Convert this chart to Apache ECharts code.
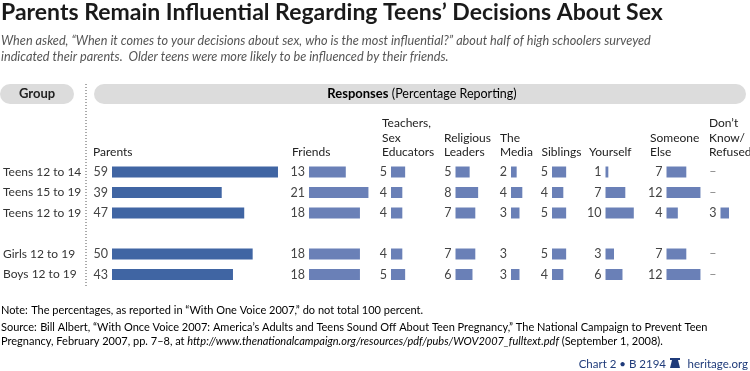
<!DOCTYPE html>
<html>
<head>
<meta charset="utf-8">
<script src="https://cdn.jsdelivr.net/npm/echarts@6/dist/echarts.min.js"></script>
<style>html,body{margin:0;padding:0;background:#fff;}#c{width:750px;height:371px;}</style>
</head>
<body>
<div id="c"></div>
<script>
// ---- data ----
const groups = ['Teens 12 to 14', 'Teens 15 to 19', 'Teens 12 to 19', 'Girls 12 to 19', 'Boys 12 to 19'];
const parents = [59, 39, 47, 50, 43];
const friends = [13, 21, 18, 18, 18];
const teachers = [5, 4, 4, 4, 5];
const religious = [5, 8, 7, 7, 6];
const media = [2, 4, 3, 3, 3];
const siblings = [5, 4, 5, 5, 4];
const yourself = [1, 7, 10, 3, 6];
const someoneElse = [7, 12, 4, 7, 12];
const dontKnow = [null, null, 3, null, null];
const headers = [
  'Parents', 'Friends', 'Teachers,\nSex\nEducators', 'Religious\nLeaders', 'The\nMedia',
  'Siblings', 'Yourself', 'Someone\nElse', "Don\u2019t\nKnow/\nRefused"
];
const title = 'Parents Remain Influential Regarding Teens\u2019 Decisions About Sex';
const subtitle1 = 'When asked, \u201CWhen it comes to your decisions about sex, who is the most influential?\u201D about half of high schoolers surveyed';
const subtitle2 = 'indicated their parents.  Older teens were more likely to be influenced by their friends.';

// ---- layout ----
const FONT = 'Lato';
const seriesList = [parents, friends, teachers, religious, media, siblings, yourself, someoneElse, dontKnow];
const barLeft = [111, 309, 391, 455.5, 511, 552, 605.5, 666.5, 720.5];
const headLeft = [93, 292, 382, 444, 500, 541.5, 589, 650, 709];
const colMax = [60, 60, 10, 10, 10, 10, 10, 15, 10];
const hidden = [[4, 3]]; // [column, row] : value printed but no bar drawn (Media, Girls)
const PXPER = 2.83;
const gridTop = 161.75, rowH = 20.5;

// categories with a blank spacer row between the age groups and gender groups
const cats = groups.slice(0, 3).concat(['']).concat(groups.slice(3));
function withGap(arr) { return arr.slice(0, 3).concat(['gap']).concat(arr.slice(3)); }

const grids = [], xAxes = [], yAxes = [], series = [];
seriesList.forEach((vals, ci) => {
  grids.push({ left: barLeft[ci], top: gridTop, width: colMax[ci] * PXPER, height: rowH * cats.length, containLabel: false });
  xAxes.push({ gridIndex: ci, type: 'value', min: 0, max: colMax[ci], show: false });
  yAxes.push({
    gridIndex: ci, type: 'category', data: cats, inverse: true,
    axisLine: { show: false }, axisTick: { show: false }, splitLine: { show: false },
    axisLabel: ci === 0 ? { show: true, align: 'left', margin: barLeft[0] - 2, color: '#333', fontSize: 12, fontFamily: FONT } : { show: false }
  });
  const color = ci === 0 ? '#4065a3' : '#6a80b7';
  const data = withGap(vals).map((v, ri) => {
    if (v === 'gap') return null;
    const rowIdx = ri > 3 ? ri - 1 : ri;
    if (v === null) return { value: 0, itemStyle: { color: 'transparent' }, label: { formatter: '\u2013', color: '#888' } };
    const isHidden = hidden.some(h => h[0] === ci && h[1] === rowIdx);
    return isHidden ? { value: v, itemStyle: { color: 'transparent' } } : v;
  });
  series.push({
    type: 'bar', xAxisIndex: ci, yAxisIndex: ci, data: data, barWidth: 11,
    itemStyle: { color: color }, silent: true, animation: false,
    label: { show: true, position: 'left', distance: 4, color: '#444', fontSize: 12.5, fontFamily: FONT }
  });
});

const graphic = [];
// title & subtitle
graphic.push({ type: 'text', left: 1, top: 1, style: { text: title, fontSize: 23, fontWeight: 'bold', fontFamily: FONT, fill: '#1a1a1a' } });
graphic.push({ type: 'text', x: 1, y: 41, style: { text: subtitle1, fontSize: 12.7, fontStyle: 'italic', fontFamily: FONT, fill: '#555', textVerticalAlign: 'middle' } });
graphic.push({ type: 'text', x: 1, y: 57, style: { text: subtitle2, fontSize: 12.7, fontStyle: 'italic', fontFamily: FONT, fill: '#555', textVerticalAlign: 'middle' } });
// header pills
graphic.push({ type: 'rect', shape: { x: 0, y: 84, width: 74, height: 20, r: 10 }, style: { fill: '#dcdcdc' } });
graphic.push({ type: 'text', x: 37, y: 94, style: { text: 'Group', fontSize: 13, fontWeight: 'bold', fontFamily: FONT, fill: '#222', textAlign: 'center', textVerticalAlign: 'middle' } });
graphic.push({ type: 'rect', shape: { x: 94, y: 84, width: 652, height: 20, r: 10 }, style: { fill: '#dcdcdc' } });
graphic.push({ type: 'text', x: 422, y: 94, style: {
  text: '{b|Responses} {n|(Percentage Reporting)}', textAlign: 'center', textVerticalAlign: 'middle',
  rich: { b: { fontSize: 13, fontWeight: 'bold', fontFamily: FONT, color: '#222' }, n: { fontSize: 12.5, fontFamily: FONT, color: '#222' } } } });
// dotted separator
graphic.push({ type: 'line', shape: { x1: 86, y1: 84, x2: 86, y2: 286 }, style: { stroke: '#555', lineWidth: 1, lineDash: [1, 2] } });
// column headers
headers.forEach((h, i) => {
  graphic.push({ type: 'text', x: headLeft[i], y: 159.8, style: { text: h, fontSize: 12, fontFamily: FONT, fill: '#222', lineHeight: 14.5, textVerticalAlign: 'bottom' } });
});
// footer
const fs = 11;
graphic.push({ type: 'text', x: 1, y: 310, style: {
  text: '{b|Note:} {n|The percentages, as reported in \u201CWith One Voice 2007,\u201D do not total 100 percent.}', textVerticalAlign: 'middle',
  rich: { b: { fontSize: fs, fontFamily: FONT, color: '#222' }, n: { fontSize: fs, fontFamily: FONT, color: '#555' } } } });
graphic.push({ type: 'text', x: 1, y: 327, style: {
  text: '{b|Source:} {n|Bill Albert, \u201CWith Once Voice 2007: America\u2019s Adults and Teens Sound Off About Teen Pregnancy,\u201D The National Campaign to Prevent Teen}', textVerticalAlign: 'middle',
  rich: { b: { fontSize: fs, fontFamily: FONT, color: '#222' }, n: { fontSize: fs, fontFamily: FONT, color: '#555' } } } });
graphic.push({ type: 'text', x: 1, y: 341, style: {
  text: '{n|Pregnancy, February 2007, pp. 7\u20138, at }{i|http://www.thenationalcampaign.org/resources/pdf/pubs/WOV2007_fulltext.pdf}{n| (September 1, 2008).}', textVerticalAlign: 'middle',
  rich: { i: { fontSize: fs, fontStyle: 'italic', fontFamily: FONT, color: '#555' }, n: { fontSize: fs, fontFamily: FONT, color: '#555' } } } });
graphic.push({ type: 'text', x: 748, y: 364, style: { text: 'heritage.org', fontSize: 11.5, fontFamily: FONT, fill: '#1f3b7a', textAlign: 'right', textVerticalAlign: 'middle' } });
graphic.push({ type: 'text', x: 666, y: 364, style: { text: 'Chart 2 \u2022 B 2194', fontSize: 11.5, fontFamily: FONT, fill: '#1f3b7a', textAlign: 'right', textVerticalAlign: 'middle' } });
// small bell mark
graphic.push({ type: 'rect', shape: { x: 670, y: 358, width: 10, height: 2 }, style: { fill: '#1f3b7a' } });
graphic.push({ type: 'polygon', shape: { points: [[672, 360], [678, 360], [680, 368], [670, 368]] }, style: { fill: '#1f3b7a' } });

const chart = echarts.init(document.getElementById('c'), null, { renderer: 'canvas' });
chart.setOption({
  backgroundColor: '#fff',
  animation: false,
  grid: grids, xAxis: xAxes, yAxis: yAxes, series: series,
  graphic: graphic
});
</script>
</body>
</html>
